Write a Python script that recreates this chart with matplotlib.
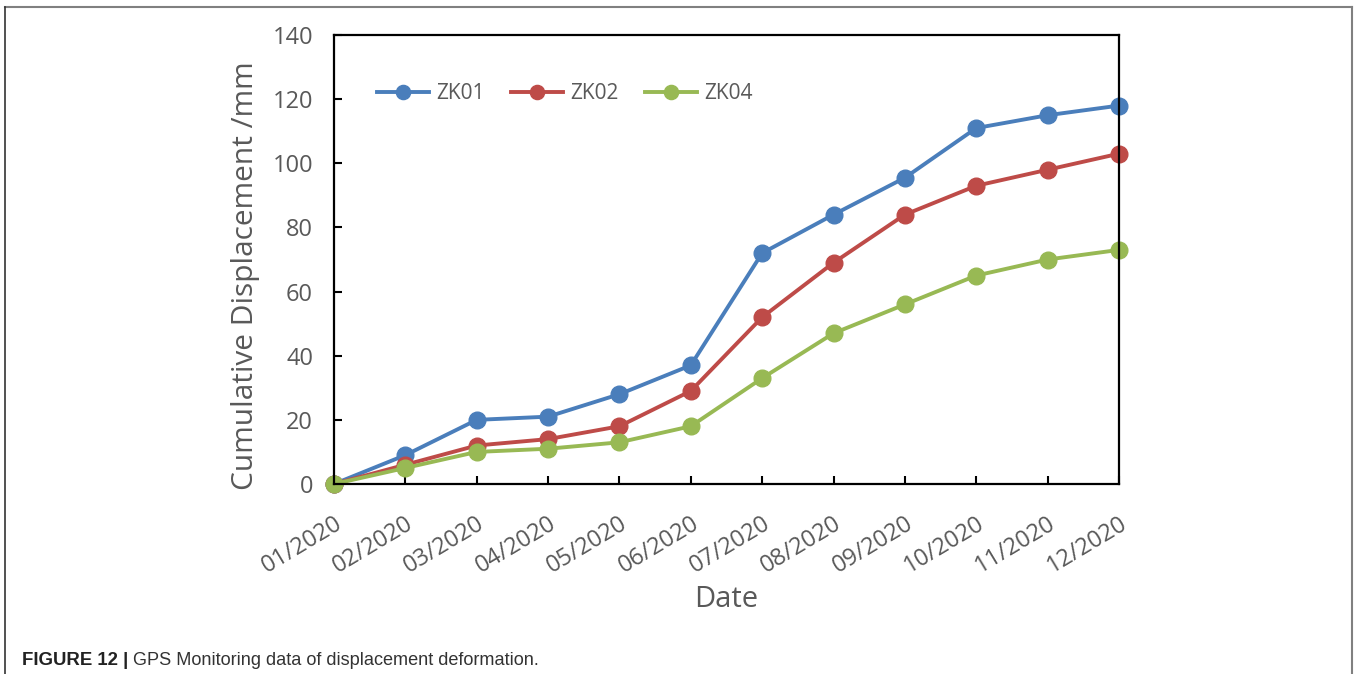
import matplotlib.pyplot as plt
from matplotlib.lines import Line2D

# monthly GPS readings, cumulative displacement in mm
months = ["01/2020", "02/2020", "03/2020", "04/2020", "05/2020", "06/2020",
          "07/2020", "08/2020", "09/2020", "10/2020", "11/2020", "12/2020"]
zk01 = [0, 9, 20, 21, 28, 37, 72, 84, 95.5, 111, 115, 118]
zk02 = [0, 6, 12, 14, 18, 29, 52, 69, 84, 93, 98, 103]
zk04 = [0, 5, 10, 11, 13, 18, 33, 47, 56, 65, 70, 73]

plt.rcParams['font.family'] = ['Open Sans', 'DejaVu Sans']
grey = "#595959"

fig = plt.figure(figsize=(13.57, 6.74), dpi=100)
ax = fig.add_axes([0.2461, 0.2819, 0.5785, 0.6661])

x = range(len(months))
ax.plot(x, zk01, color="#4a7ebb", lw=2.8, marker="o", ms=12, label="ZK01")
ax.plot(x, zk02, color="#be4b48", lw=2.8, marker="o", ms=12, label="ZK02")
ax.plot(x, zk04, color="#98b954", lw=2.8, marker="o", ms=12, label="ZK04")

ax.set_xlim(0, len(months) - 1)
ax.set_ylim(0, 140)
ax.set_yticks(range(0, 141, 20))
ax.set_xticks(list(x))
ax.set_xticklabels(months, rotation=31, ha="right", rotation_mode="anchor")
ax.tick_params(axis="both", direction="in", length=6, width=1.5,
               labelsize=17, labelcolor=grey)
ax.tick_params(axis="x", pad=20)
ax.tick_params(axis="y", pad=15)
for s in ax.spines.values():
    s.set_linewidth(1.6)
for ln in ax.lines:
    ln.set_clip_on(False)

ax.set_ylabel("Cumulative Displacement /mm", fontsize=21.5, color=grey)
ax.yaxis.set_label_coords(-0.094, 0.464)
ax.set_xlabel("Date", fontsize=21, color=grey, labelpad=5)

leg = ax.legend(ncol=3, frameon=False, loc="center left",
                bbox_to_anchor=(0.031, 0.870), fontsize=15, handlelength=2.5,
                columnspacing=1.25, handletextpad=0.35, markerscale=0.85)
for t in leg.get_texts():
    t.set_color(grey)

# frame lines round the figure (no bottom edge) and caption
fig.add_artist(Line2D([0.004, 0.996], [0.990, 0.990], transform=fig.transFigure,
                      color="#808080", lw=1.5))
fig.add_artist(Line2D([0.004, 0.004], [0.0, 0.990], transform=fig.transFigure,
                      color="#333333", lw=1.2))
fig.add_artist(Line2D([0.9965, 0.9965], [0.0, 0.990], transform=fig.transFigure,
                      color="#808080", lw=1.5))

cap_y = 0.0134
fig.text(0.0162, cap_y, "FIGURE 12 |", fontsize=13.4, fontweight="bold",
         family="Liberation Sans", color="#222222")
fig.text(0.098, cap_y, "GPS Monitoring data of displacement deformation.",
         fontsize=13.1, family="Liberation Sans", color="#333333")

fig.savefig("out.png", dpi=100)
